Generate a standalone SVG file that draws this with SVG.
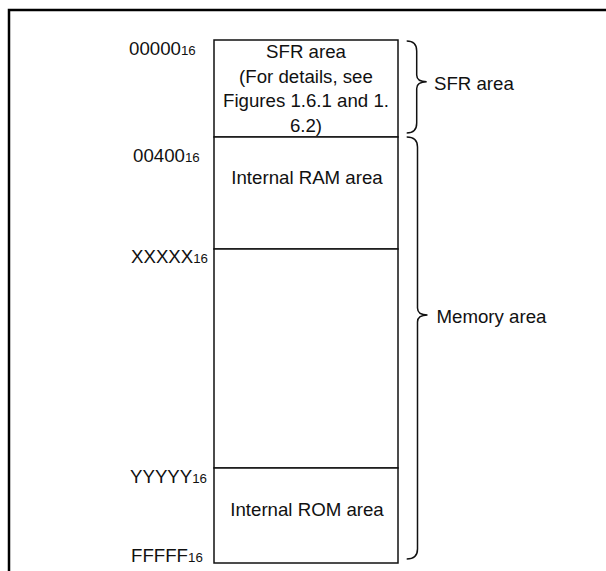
<svg xmlns="http://www.w3.org/2000/svg" width="606" height="571" viewBox="0 0 606 571">
<style>
  text { font-family: "Liberation Sans", Arial, sans-serif; font-size: 18.67px; fill: #111; }
  .c { text-anchor: middle; }
  .sub { font-size: 13.3px; }
  .box { fill: #fff; stroke: #111; stroke-width: 1.5; }
  .brace { fill: none; stroke: #111; stroke-width: 1.5; }
  .frame { fill: none; stroke: #000; stroke-width: 2.5; }
</style>
<rect x="0" y="0" width="606" height="571" fill="#fff"/>
<path class="frame" d="M9,580 L9,10 L620,10"/>

<g id="sfr">
  <rect class="box" x="214" y="40" width="184" height="97"/>
  <text class="c" x="306" y="58">SFR area</text>
  <text class="c" x="306" y="83">(For details, see</text>
  <text class="c" x="306" y="107">Figures 1.6.1 and 1.</text>
  <text class="c" x="306" y="132">6.2)</text>
</g>
<g id="ram">
  <rect class="box" x="214" y="137" width="184" height="112"/>
  <text class="c" x="307" y="184">Internal RAM area</text>
</g>
<g id="blank">
  <rect class="box" x="214" y="249" width="184" height="219"/>
</g>
<g id="rom">
  <rect class="box" x="214" y="468" width="184" height="95"/>
  <text class="c" x="307" y="516">Internal ROM area</text>
</g>

<g id="addresses">
  <text x="129" y="55">00000<tspan class="sub">16</tspan></text>
  <text x="133" y="162">00400<tspan class="sub">16</tspan></text>
  <text x="131" y="263">XXXXX<tspan class="sub">16</tspan></text>
  <text x="130" y="483">YYYYY<tspan class="sub">16</tspan></text>
  <text x="131" y="562">FFFFF<tspan class="sub">16</tspan></text>
</g>

<g id="connectors">
  <path class="brace" d="M406.7,41 Q416.7,41 416.7,51 L416.7,75 Q416.7,81.7 426.7,81.7 Q416.7,81.7 416.7,88.5 L416.7,123 Q416.7,133 406.7,133"/>
  <path class="brace" d="M406.7,137 Q417.5,137 417.5,147 L417.5,308 Q417.5,315 427.5,315 Q417.5,315 417.5,322 L417.5,549 Q417.5,559 406.7,559"/>
</g>

<g id="sfr-label">
  <text x="434" y="90">SFR area</text>
</g>
<g id="memory-label">
  <text x="436.5" y="323">Memory area</text>
</g>
</svg>
